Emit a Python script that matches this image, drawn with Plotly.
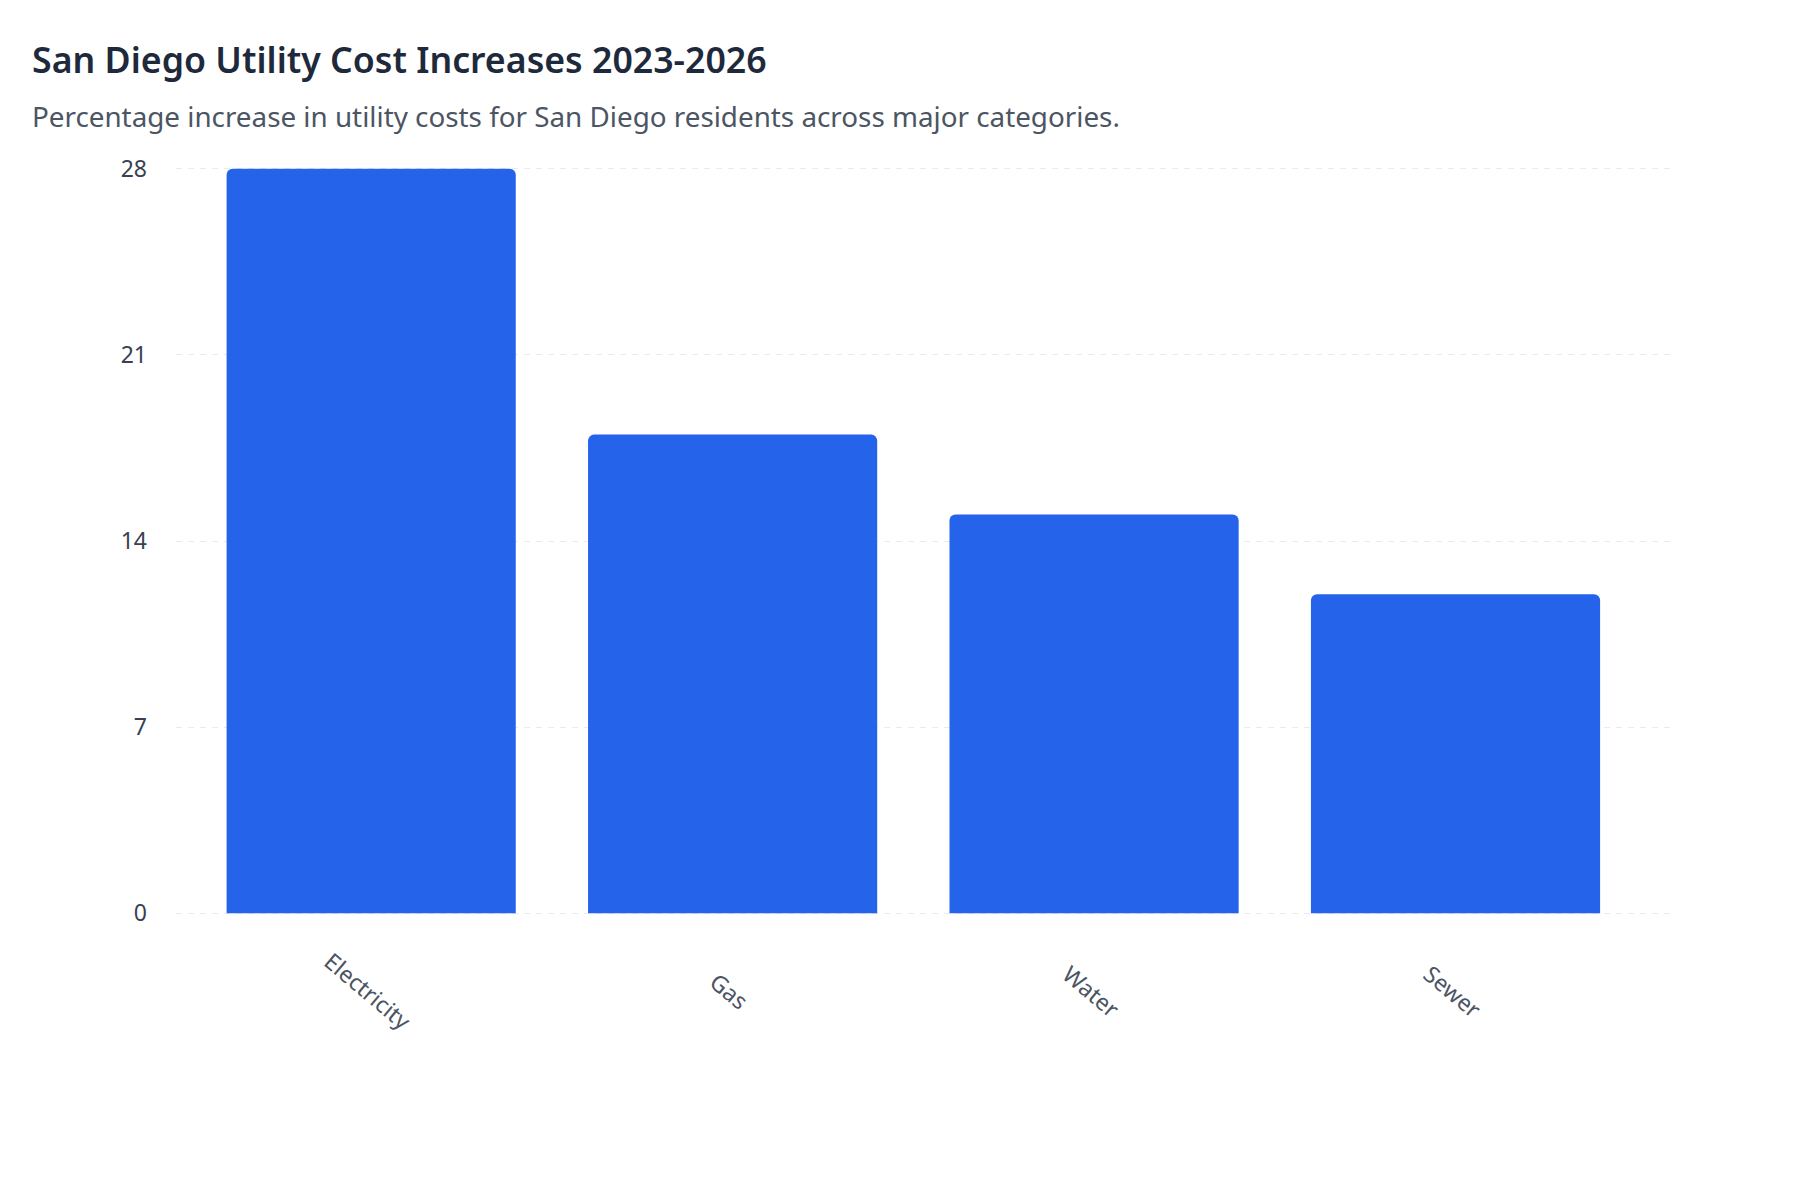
import plotly.graph_objects as go

# data
categories = ['Electricity', 'Gas', 'Water', 'Sewer']
increase_pct = [28, 18, 15, 12]
y_ticks = [0, 7, 14, 21, 28]

title_text = 'San Diego Utility Cost Increases 2023-2026'
subtitle_text = 'Percentage increase in utility costs for San Diego residents across major categories.'

fig = go.Figure()

fig.add_trace(go.Bar(
    x=categories,
    y=increase_pct,
    marker=dict(color='#2563eb', cornerradius=6, line=dict(width=0)),
    width=0.8,
    hovertemplate='%{x}: %{y}%<extra></extra>',
))

# rotated category labels, centred under each bar
for cat in categories:
    fig.add_annotation(
        x=cat, xref='x',
        y=0, yref='paper',
        yshift=-75, xshift=-3,
        text=cat,
        textangle=40,
        showarrow=False,
        xanchor='center', yanchor='middle',
        font=dict(family='Noto Sans', size=23, color='#4b5563'),
    )

fig.add_annotation(
    x=-0.0976, xref='paper',
    y=1.0667, yref='paper',
    text=subtitle_text,
    showarrow=False,
    xanchor='left', yanchor='middle',
    font=dict(family='Noto Sans', size=27.8, color='#4b5563'),
)

fig.update_layout(
    width=1800,
    height=1182,
    title=dict(
        text=title_text,
        x=24 / 1800, xref='container', xanchor='left',
        y=1 - 53 / 1182, yref='container', yanchor='middle',
        font=dict(family='Noto Sans', size=35.7, weight=600, color='#1e293b'),
    ),
    margin=dict(l=168, r=132, t=158, b=274),
    paper_bgcolor='white',
    plot_bgcolor='white',
    showlegend=False,
    font=dict(family='Noto Sans'),
    xaxis=dict(
        range=[-0.54, 3.61],
        showticklabels=False,
        showgrid=False,
        showline=False,
        zeroline=False,
        ticks='',
    ),
    yaxis=dict(
        # small padding so plotly keeps the gridlines at 0 and 28
        range=[-0.1, 28.1],
        tickmode='array',
        tickvals=y_ticks,
        ticktext=[str(v) for v in y_ticks],
        showgrid=True,
        gridcolor='#e8eaee',
        griddash='6px,6px',
        gridwidth=1,
        zeroline=False,
        showline=False,
        ticks='',
        ticklabelstandoff=28,
        tickfont=dict(family='Noto Sans', size=23, color='#374151'),
    ),
)

fig.write_html('out.html')
